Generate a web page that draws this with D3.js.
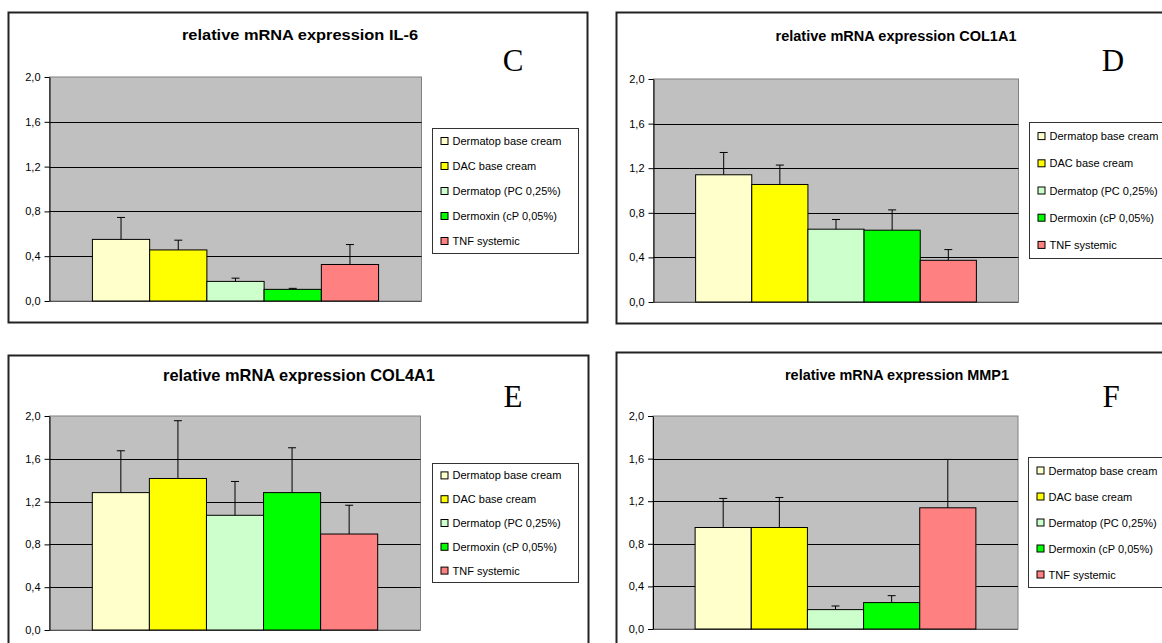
<!DOCTYPE html>
<html>
<head>
<meta charset="utf-8">
<script src="https://cdn.jsdelivr.net/npm/d3@7"></script>
<style>
  body { margin: 0; background: #fff; }
  svg { display: block; font-family: 'Liberation Sans', Arial, sans-serif; }
</style>
</head>
<body>
<svg id="chart" width="1162" height="643"></svg>
<script>
// groups and colours shared by all four panels
var series = ['Dermatop base cream', 'DAC base cream', 'Dermatop (PC 0,25%)', 'Dermoxin (cP 0,05%)', 'TNF systemic']
var colors = ['#ffffcc', '#ffff00', '#ccffcc', '#00ff00', '#ff8080']
var yTicks = [0, 0.4, 0.8, 1.2, 1.6, 2.0]

// mean values and upper error (SD)
var il6Means = [0.55, 0.456, 0.175, 0.104, 0.326]
var il6Err = [0.196, 0.087, 0.029, 0.009, 0.178]
var col1a1Means = [1.141, 1.054, 0.653, 0.644, 0.374]
var col1a1Err = [0.200, 0.174, 0.087, 0.182, 0.096]
var col4a1Means = [1.284, 1.416, 1.072, 1.284, 0.897]
var col4a1Err = [0.391, 0.540, 0.316, 0.419, 0.269]
var mmp1Means = [0.953, 0.953, 0.182, 0.248, 1.138]
var mmp1Err = [0.273, 0.282, 0.034, 0.065, 0.454]

var panels = [
  { title: 'relative mRNA expression IL-6', letter: 'C', means: il6Means, err: il6Err,
    box: [8.5, 12.5, 579, 310], plot: [49.5, 77, 372, 224], titleY: 40, titleX: 300, titleW: 236, titleSize: 15.5,
    letterX: 513, letterY: 71, legend: [432.5, 128.5, 146, 125] },
  { title: 'relative mRNA expression COL1A1', letter: 'D', means: col1a1Means, err: col1a1Err,
    box: [616.5, 12.5, 600, 311], plot: [653.5, 79, 365, 223], titleY: 41, titleX: 896, titleW: 241, titleSize: 14.5,
    letterX: 1113, letterY: 71, legend: [1029.5, 122.5, 160, 136] },
  { title: 'relative mRNA expression COL4A1', letter: 'E', means: col4a1Means, err: col4a1Err,
    box: [8.5, 355.5, 580, 330], plot: [49.5, 416, 371, 214], titleY: 381, titleX: 299, titleW: 272, titleSize: 16.3,
    letterX: 513, letterY: 407, legend: [432.5, 463.5, 146, 119] },
  { title: 'relative mRNA expression MMP1', letter: 'F', means: mmp1Means, err: mmp1Err,
    box: [616.5, 352.5, 600, 330], plot: [653, 416, 365, 213], titleY: 380, titleX: 897, titleW: 224, titleSize: 14.5,
    letterX: 1111, letterY: 407, legend: [1028.5, 457.5, 160, 130] }
]

var svg = d3.select('#chart')
var fmt = function (d) { return d3.format('.1f')(d).replace('.', ',') }

panels.forEach(function (p) {
  var g = svg.append('g')

  g.append('rect')
    .attr('x', p.box[0]).attr('y', p.box[1])
    .attr('width', p.box[2]).attr('height', p.box[3])
    .attr('fill', '#fff').attr('stroke', '#222').attr('stroke-width', 2)

  g.append('text')
    .attr('x', p.titleX).attr('y', p.titleY)
    .attr('text-anchor', 'middle')
    .attr('font-weight', 'bold').attr('font-size', p.titleSize)
    .attr('textLength', p.titleW).attr('lengthAdjust', 'spacingAndGlyphs')
    .text(p.title)

  g.append('text')
    .attr('x', p.letterX).attr('y', p.letterY)
    .attr('text-anchor', 'middle')
    .attr('font-family', "'Liberation Serif', 'Times New Roman', serif")
    .attr('font-size', 31)
    .text(p.letter)

  var px = p.plot[0], py = p.plot[1], pw = p.plot[2], ph = p.plot[3]
  var x = d3.scaleBand().domain(series).range([px, px + pw]).paddingInner(0).paddingOuter(0.75)
  var y = d3.scaleLinear().domain([0, 2]).range([py + ph, py])

  g.append('rect')
    .attr('x', px).attr('y', py).attr('width', pw).attr('height', ph)
    .attr('fill', '#c0c0c0').attr('stroke', '#808080').attr('stroke-width', 1)

  g.selectAll('.grid').data(yTicks.filter(function (d) { return d > 0 && d < 2 }))
    .enter().append('line')
    .attr('x1', px).attr('x2', px + pw)
    .attr('y1', function (d) { return Math.round(y(d)) + 0.5 })
    .attr('y2', function (d) { return Math.round(y(d)) + 0.5 })
    .attr('stroke', '#000').attr('stroke-width', 1)

  g.append('line')
    .attr('x1', px).attr('x2', px + pw)
    .attr('y1', Math.round(y(0)) + 0.5).attr('y2', Math.round(y(0)) + 0.5)
    .attr('stroke', '#555').attr('stroke-width', 1.2)

  var axis = g.append('g')
    .attr('transform', 'translate(' + px + ',0)')
    .call(d3.axisLeft(y).tickValues(yTicks).tickFormat(fmt).tickSize(5).tickSizeOuter(0).tickPadding(4))
  axis.select('.domain').attr('stroke', '#000')
  axis.selectAll('.tick line').attr('stroke', '#000')
  axis.selectAll('.tick text').attr('font-size', 11).attr('fill', '#000')
    .attr('font-family', "'Liberation Sans', Arial, sans-serif")

  var rows = series.map(function (s, i) { return { name: s, mean: p.means[i], err: p.err[i], color: colors[i] } })

  g.selectAll('.bar').data(rows).enter().append('rect')
    .attr('x', function (d) { return x(d.name) })
    .attr('y', function (d) { return y(d.mean) })
    .attr('width', x.bandwidth())
    .attr('height', function (d) { return y(0) - y(d.mean) })
    .attr('fill', function (d) { return d.color })
    .attr('stroke', '#000').attr('stroke-width', 1)

  var eb = g.selectAll('.err').data(rows).enter().append('g')
  eb.append('line')
    .attr('x1', function (d) { return x(d.name) + x.bandwidth() / 2 })
    .attr('x2', function (d) { return x(d.name) + x.bandwidth() / 2 })
    .attr('y1', function (d) { return y(d.mean) })
    .attr('y2', function (d) { return y(d.mean + d.err) })
    .attr('stroke', '#000').attr('stroke-width', 1)
  eb.append('line')
    .attr('x1', function (d) { return x(d.name) + x.bandwidth() / 2 - 4 })
    .attr('x2', function (d) { return x(d.name) + x.bandwidth() / 2 + 4 })
    .attr('y1', function (d) { return y(d.mean + d.err) })
    .attr('y2', function (d) { return y(d.mean + d.err) })
    .attr('stroke', '#000').attr('stroke-width', 1)

  // legend box
  var lx = p.legend[0], ly = p.legend[1], lw = p.legend[2], lh = p.legend[3]
  g.append('rect')
    .attr('x', lx).attr('y', ly).attr('width', lw).attr('height', lh)
    .attr('fill', '#fff').attr('stroke', '#333').attr('stroke-width', 1)
  var step = lh / 5
  var items = g.selectAll('.leg').data(rows).enter().append('g')
    .attr('transform', function (d, i) { return 'translate(' + lx + ',' + (ly + step * (i + 0.5)) + ')' })
  items.append('rect')
    .attr('x', 8.5).attr('y', -3.5).attr('width', 7).attr('height', 7)
    .attr('fill', function (d) { return d.color })
    .attr('stroke', '#000').attr('stroke-width', 1)
  items.append('text')
    .attr('x', 20).attr('y', 4)
    .attr('font-size', 11)
    .text(function (d) { return d.name })
})
</script>
</body>
</html>
